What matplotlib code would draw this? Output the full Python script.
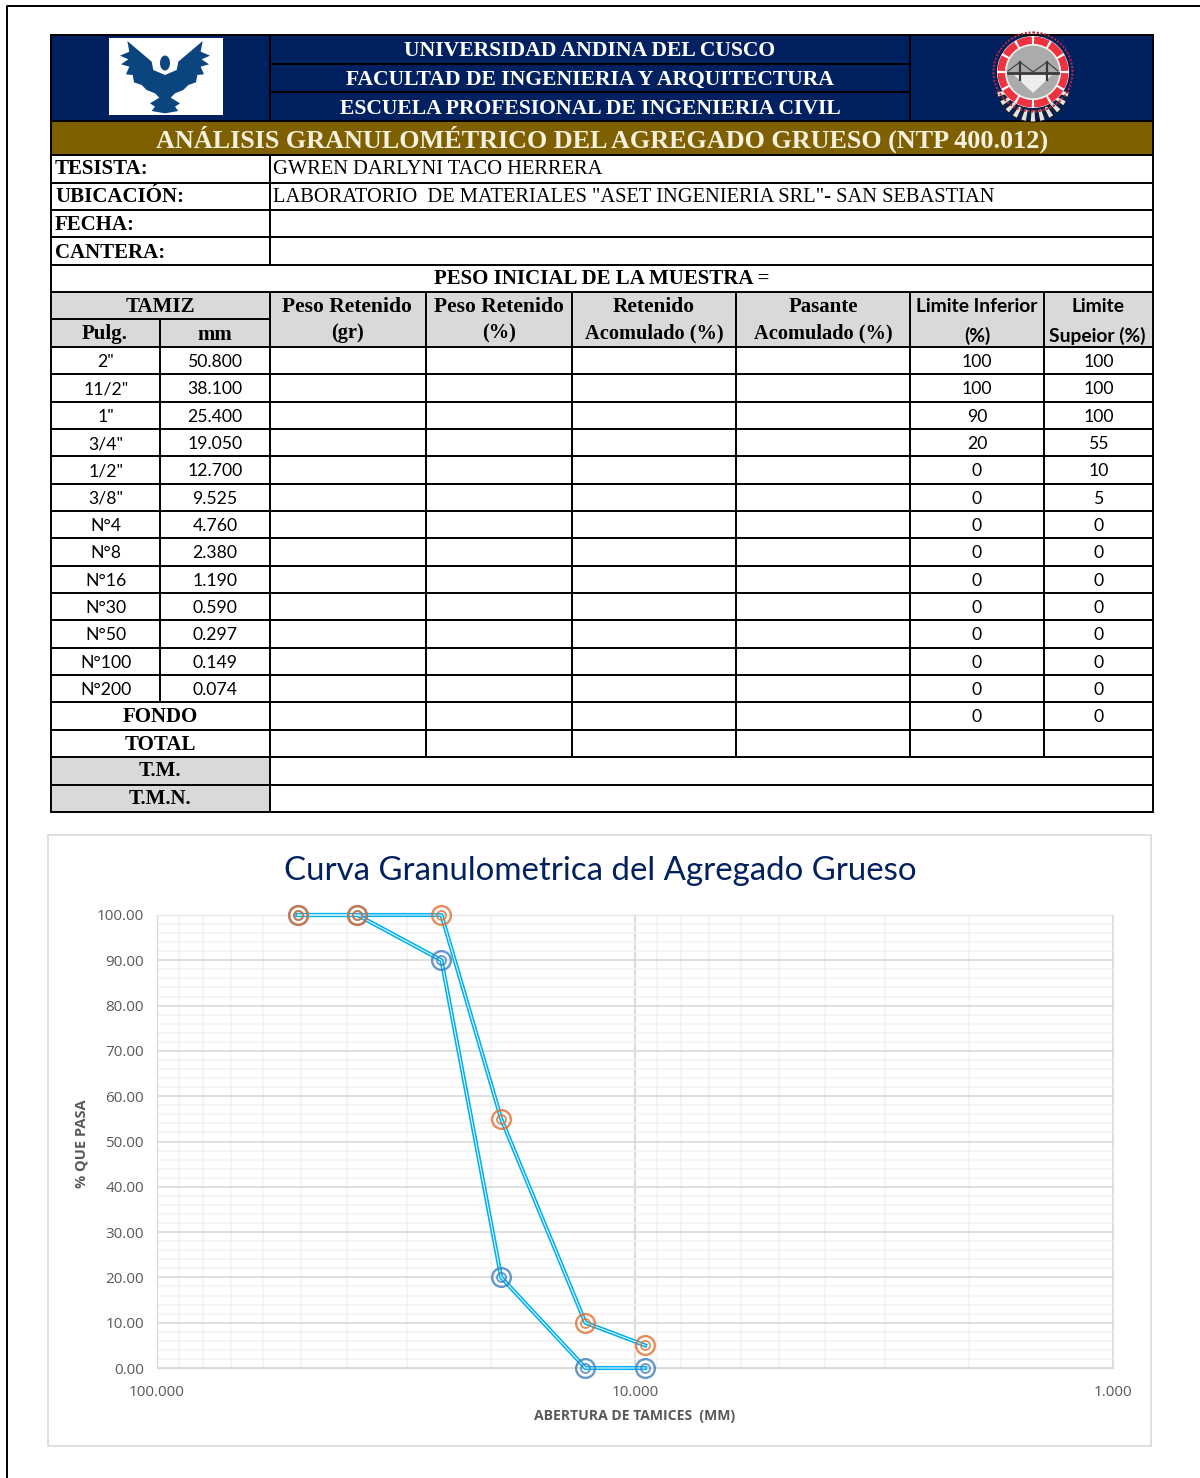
import numpy as np
import matplotlib
matplotlib.use("Agg")
import matplotlib.pyplot as plt
from matplotlib.patches import Rectangle, Polygon, Ellipse, Circle, Wedge
from matplotlib.ticker import FixedLocator, NullFormatter, FuncFormatter

# Sieve table
pulg = ['2"', '11/2"', '1"', '3/4"', '1/2"', '3/8"', 'N°4', 'N°8', 'N°16', 'N°30', 'N°50', 'N°100', 'N°200']
mm = ['50.800', '38.100', '25.400', '19.050', '12.700', '9.525', '4.760', '2.380', '1.190', '0.590', '0.297', '0.149', '0.074']
lim_inf = [100, 100, 90, 20, 0, 0, 0, 0, 0, 0, 0, 0, 0, 0]
lim_sup = [100, 100, 100, 55, 10, 5, 0, 0, 0, 0, 0, 0, 0, 0]

# Curve data: the first six sieves
abertura = [50.8, 38.1, 25.4, 19.05, 12.7, 9.525]
curva_inf = [100, 100, 90, 20, 0, 0]
curva_sup = [100, 100, 100, 55, 10, 5]

NAVY, GOLD, GREY = '#002060', '#7F6000', '#D9D9D9'
SERIF, SANS = 'Liberation Serif', 'Lato'

fig = plt.figure(figsize=(12, 14.78), dpi=100, facecolor='white')
pg = fig.add_axes([0, 0, 1, 1])
pg.set_xlim(0, 1200)
pg.set_ylim(1478, 0)
pg.axis('off')


def rect(x0, y0, x1, y1, color, z=1):
    pg.add_patch(Rectangle((x0, y0), x1 - x0, y1 - y0, fc=color, ec='none', zorder=z))


def hl(y, x0=51, x1=1153, lw=1.4):
    pg.plot([x0, x1], [y, y], color='black', lw=lw, zorder=3, solid_capstyle='butt')


def vl(x, y0, y1, lw=1.4):
    pg.plot([x, x], [y0, y1], color='black', lw=lw, zorder=3, solid_capstyle='butt')


def txt(x, y, s, size, family=SERIF, weight='bold', color='black', ha='center', **kw):
    pg.text(x, y + 1.5, s, fontsize=size, family=family, fontweight=weight, color=color,
            ha=ha, va='center', zorder=4, **kw)


# Page frame
pg.plot([7, 7, 1200], [1478, 6, 6], color='black', lw=1.4, zorder=2)

# Coloured bands
rect(51, 35, 1153, 121, NAVY)
rect(51, 121, 1153, 155, GOLD)
rect(51, 292, 1153, 347, GREY)
rect(51, 757, 270, 812, GREY)

# Ruling of the sheet
row_y = [347, 374, 402, 429, 456, 484, 511, 538, 566, 593, 620, 648, 675, 702, 730, 757, 785, 812]
for y in [35, 121, 155, 183, 210, 237, 265, 292] + row_y:
    hl(y)
hl(319, 51, 270)
hl(64, 270, 910)
hl(92, 270, 910)
vl(51, 34, 813)
vl(1153, 34, 813)
vl(270, 35, 121)
vl(910, 35, 121)
vl(270, 155, 265)
vl(270, 292, 812)
vl(160, 319, 702)
for x in [426, 572, 736, 910, 1044]:
    vl(x, 292, 757)

# Header
txt(590, 49.5, 'UNIVERSIDAD ANDINA DEL CUSCO', 15.6, color='white')
txt(590, 78.5, 'FACULTAD DE INGENIERIA Y ARQUITECTURA', 15.6, color='white')
txt(590, 107.5, 'ESCUELA PROFESIONAL DE INGENIERIA CIVIL', 15.6, color='white')
txt(602, 138, 'ANÁLISIS GRANULOMÉTRICO DEL AGREGADO GRUESO (NTP 400.012)', 18.85, color='#F5F0E0')

# Identification block
for y, s in zip([168, 196, 223, 251], ['TESISTA:', 'UBICACIÓN:', 'FECHA:', 'CANTERA:']):
    txt(55, y, s, 15, ha='left')
txt(273, 168, 'GWREN DARLYNI TACO HERRERA', 14.75, weight='normal', ha='left')
txt(273, 196, 'LABORATORIO  DE MATERIALES "ASET INGENIERIA SRL"- SAN SEBASTIAN', 14.75, weight='normal', ha='left')
txt(602, 278, 'PESO INICIAL DE LA MUESTRA =', 15)

# Column headers
txt(160, 305, 'TAMIZ', 15)
txt(105, 333, 'Pulg.', 15)
txt(215, 333, 'mm', 15)
heads = [(347, 'Peso Retenido', '(gr)', 15.6), (499, 'Peso Retenido', '(%)', 15.6),
         (654, 'Retenido', 'Acomulado (%)', 15.4), (823, 'Pasante', 'Acomulado (%)', 15)]
for x, a, b, size in heads:
    txt(x, 305, a, size)
    txt(x, 331.5, b, 14.7)
txt(977, 305, 'Limite Inferior', 13.9, family=SANS)
txt(977, 334, '(%)', 13.9, family=SANS)
txt(1098, 305, 'Limite', 13.9, family=SANS)
txt(1097, 334, 'Supeior (%)', 13.9, family=SANS)

# Sieve rows
for i in range(13):
    y = (row_y[i] + row_y[i + 1]) / 2
    txt(106, y, pulg[i], 12.7, family=SANS, weight='normal')
    txt(215, y, mm[i], 12.7, family=SANS, weight='normal')
for i in range(14):
    y = (row_y[i] + row_y[i + 1]) / 2
    txt(977, y, str(lim_inf[i]), 12.7, family=SANS, weight='normal')
    txt(1099, y, str(lim_sup[i]), 12.7, family=SANS, weight='normal')
txt(160, 716, 'FONDO', 15)
txt(160, 743, 'TOTAL', 15)
txt(160, 770, 'T.M.', 15)
txt(160, 798, 'T.M.N.', 15)

# University emblem
rect(109, 38, 223, 115, 'white', z=2)
half = [(375, 150), (340, 135), (335, 110), (262, 48), (268, 80), (240, 92), (265, 103), (243, 118),
        (268, 125), (258, 148), (278, 150), (282, 172), (305, 180), (320, 195), (345, 205),
        (358, 218), (330, 235), (345, 245), (335, 258), (375, 265)]
half_px = [(40 + x / 3, 25 + y / 3) for x, y in half]
mirror = [(40 + (750 - x) / 3, 25 + y / 3) for x, y in half[::-1]]
pg.add_patch(Polygon(half_px + mirror, fc='#0B4580', ec='none', zorder=3))
pg.add_patch(Ellipse((165, 63), 10, 15, fc='#0B4580', ec='none', zorder=3))

# School crest: gear first, then the ring and the bridge disc over it
cx, cy = 1033, 72
for a in np.arange(15, 170, 15):
    pg.add_patch(Wedge((cx, 85), 37, a - 4.5, a + 4.5, width=12, fc='#E2E2E2', ec='#1A1A1A', lw=0.8, zorder=3))
pg.add_patch(Ellipse((cx, 97), 46, 13, fc=NAVY, ec='#C8D4E0', lw=1.2, zorder=3))
pg.add_patch(Circle((cx, cy), 39.5, fc='none', ec='#B02A3C', lw=1.5, ls=(0, (1, 0.8)), zorder=3))
pg.add_patch(Circle((cx, cy), 36, fc='white', ec='none', zorder=3))
for a in range(0, 360, 30):
    pg.add_patch(Wedge((cx, cy), 35.5, a + 2, a + 28, width=7.5, fc='#EE3340', ec='none', zorder=3))
pg.add_patch(Circle((cx, cy), 27, fc='#ABABAB', ec='#EDEDED', lw=1, zorder=3))
pg.add_patch(Polygon([(1013, 92 - 18), (1053, 74), (1033, 93)], fc='#EDEDED', ec='none', zorder=3))
pg.plot([1008, 1058], [73, 73], color='#3A3A3A', lw=2, zorder=4)
pg.plot([1020, 1020], [62, 80], color='#3A3A3A', lw=1.6, zorder=4)
pg.plot([1047, 1047], [62, 80], color='#3A3A3A', lw=1.6, zorder=4)
pg.plot([1008, 1020, 1033, 1047, 1058], [71, 62, 72, 62, 71], color='#3A3A3A', lw=0.8, zorder=4)

# Chart frame
pg.add_patch(Rectangle((48, 835), 1103, 611, fc='white', ec='#D9D9D9', lw=1.2, zorder=1))
txt(600, 870, 'Curva Granulometrica del Agregado Grueso', 23.8, family=SANS, weight='normal', color=NAVY)

# Grading curve on inverted log axis
ax = fig.add_axes([157 / 1200, 1 - 1368 / 1478, (1113 - 157) / 1200, (1368 - 915) / 1478], facecolor='none')
ax.set_xscale('log')
ax.set_xlim(100, 1)
ax.set_ylim(0, 100)
for name, col in [('left', '#D9D9D9'), ('bottom', '#D9D9D9'), ('top', '#E4E4E4'), ('right', '#E4E4E4')]:
    ax.spines[name].set_color(col)
ax.xaxis.set_major_locator(FixedLocator([100, 10, 1]))
ax.xaxis.set_minor_locator(FixedLocator([v * d for d in (1, 10) for v in range(2, 10)]))
ax.xaxis.set_major_formatter(FuncFormatter(lambda v, _: f'{v:.3f}'))
ax.xaxis.set_minor_formatter(NullFormatter())
ax.yaxis.set_major_locator(FixedLocator(np.arange(0, 101, 10)))
ax.yaxis.set_minor_locator(FixedLocator([v for v in range(0, 101, 2) if v % 10]))
ax.yaxis.set_major_formatter(FuncFormatter(lambda v, _: f'{v:.2f}'))
ax.grid(which='major', axis='y', color='#D9D9D9', lw=1.2)
ax.grid(which='major', axis='x', color='#D4D4D4', lw=1.2)
ax.grid(which='minor', color='#F2F2F2', lw=1.1)
ax.set_axisbelow(True)
ax.tick_params(which='both', length=0)
ax.tick_params(axis='x', which='major', pad=12, labelsize=11, labelcolor='#595959')
ax.tick_params(axis='y', which='major', pad=9.5, labelsize=11, labelcolor='#595959')
for lab in ax.get_xticklabels() + ax.get_yticklabels():
    lab.set_family('Open Sans')

for vals in (curva_inf, curva_sup):
    ax.plot(abertura, vals, color='#00B0F0', lw=3, zorder=4, clip_on=False, solid_joinstyle='round')
    ax.plot(abertura, vals, color='white', lw=0.7, zorder=4.1, clip_on=False, solid_joinstyle='round')
for vals, col in [(curva_inf, '#3F7FBF'), (curva_sup, '#E07030')]:
    ax.plot(abertura, vals, ls='none', marker='o', ms=13.5, mfc='none', mec=col, mew=1.7,
            alpha=0.8, zorder=5, clip_on=False)
    ax.plot(abertura, vals, ls='none', marker='o', ms=6.5, mfc='none', mec=col, mew=1.3,
            alpha=0.8, zorder=5, clip_on=False)

txt(82, 1142.5, '% QUE PASA', 10.5, family='Open Sans', color='#595959', rotation=90)
txt(635, 1414.5, 'ABERTURA DE TAMICES  (MM)', 10.05, family='Open Sans', color='#595959')

fig.savefig('out.png', dpi=100, facecolor='white')
